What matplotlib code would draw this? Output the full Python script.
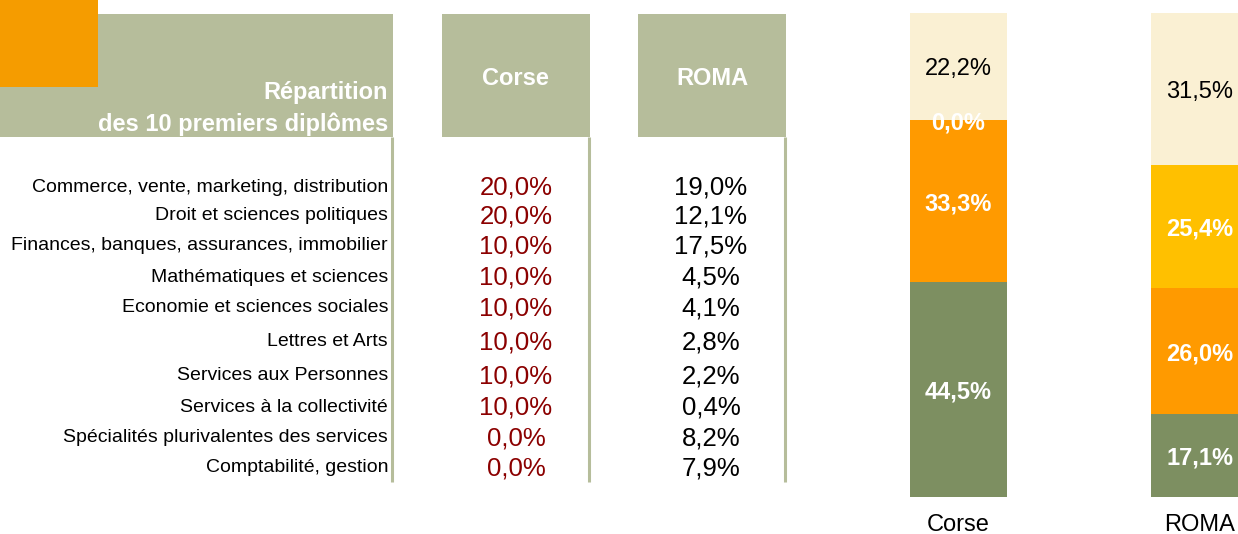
import matplotlib.pyplot as plt
from matplotlib.patches import Rectangle

plt.rcParams['font.family'] = ['Liberation Sans', 'DejaVu Sans']

# ---------------------------------------------------------------------------
# Data
# ---------------------------------------------------------------------------
diplomes = [
    'Commerce, vente, marketing, distribution',
    'Droit et sciences politiques',
    'Finances, banques, assurances, immobilier',
    'Mathématiques et sciences',
    'Economie et sciences sociales',
    'Lettres et Arts',
    'Services aux Personnes',
    'Services à la collectivité',
    'Spécialités plurivalentes des services',
    'Comptabilité, gestion',
]
corse_pct = [20.0, 20.0, 10.0, 10.0, 10.0, 10.0, 10.0, 10.0, 0.0, 0.0]
roma_pct = [19.0, 12.1, 17.5, 4.5, 4.1, 2.8, 2.2, 0.4, 8.2, 7.9]

bar_groups = ['Corse', 'ROMA']
# stacked segments from bottom to top
seg_green = [44.5, 17.1]
seg_orange = [33.3, 26.0]
seg_yellow = [0.0, 25.4]
seg_cream = [22.2, 31.5]

# ---------------------------------------------------------------------------
# Style
# ---------------------------------------------------------------------------
HEAD_GREEN = '#b6bd9b'
ORANGE_SQ = '#f59c00'
DARK_RED = '#8b0000'
C_GREEN = '#7d8f61'
C_ORANGE = '#ff9a00'
C_YELLOW = '#ffc000'
C_CREAM = '#faf0d3'

W, H = 1238, 534
fig = plt.figure(figsize=(W / 100, H / 100), dpi=100)

# table drawn in pixel coordinates
ax = fig.add_axes([0, 0, 1, 1])
ax.set_xlim(0, W)
ax.set_ylim(H, 0)
ax.axis('off')

# header boxes
ax.add_patch(Rectangle((0, 14), 393, 123, color=HEAD_GREEN, lw=0))
ax.add_patch(Rectangle((442, 14), 148, 123, color=HEAD_GREEN, lw=0))
ax.add_patch(Rectangle((638, 14), 148, 123, color=HEAD_GREEN, lw=0))
ax.add_patch(Rectangle((0, 0), 98, 87, color=ORANGE_SQ, lw=0, zorder=3))

# vertical separators
for x in [392, 588.5, 784.5]:
    ax.plot([x, x], [137, 482], color=HEAD_GREEN, lw=2.2, solid_capstyle='butt')

VA = 'center_baseline'
ax.text(388, 90, 'Répartition', ha='right', va=VA, fontsize=17,
        fontweight='bold', color='white')
ax.text(388, 122, 'des 10 premiers diplômes', ha='right', va=VA,
        fontsize=17, fontweight='bold', color='white')
ax.text(515, 76, 'Corse', ha='center', va=VA, fontsize=17,
        fontweight='bold', color='white')
ax.text(712, 76, 'ROMA', ha='center', va=VA, fontsize=17,
        fontweight='bold', color='white')

row_y = [185, 214, 244, 275, 306, 340, 374, 405, 436, 466]
for y, lab, c, r in zip(row_y, diplomes, corse_pct, roma_pct):
    ax.text(388, y, lab, ha='right', va=VA, fontsize=14, color='black')
    ax.text(516, y, f'{c:.1f}%'.replace('.', ','), ha='center', va=VA,
            fontsize=18.5, color=DARK_RED)
    ax.text(711, y, f'{r:.1f}%'.replace('.', ','), ha='center', va=VA,
            fontsize=18.5, color='black')

# ---------------------------------------------------------------------------
# Stacked bars
# ---------------------------------------------------------------------------
spacing = 241.0
x0_px = 958.5
left_px, right_px = 880, W
axb = fig.add_axes([left_px / W, (H - 497) / H, (right_px - left_px) / W, 484 / H])
axb.set_xlim((left_px - x0_px) / spacing, (right_px - x0_px) / spacing)
axb.set_ylim(0, 100)

xs = list(range(len(bar_groups)))
width = 97 / spacing
bottom = [0.0, 0.0]
segments = [
    (seg_green, C_GREEN, 'white', 'bold'),
    (seg_orange, C_ORANGE, 'white', 'bold'),
    (seg_yellow, C_YELLOW, 'white', 'bold'),
    (seg_cream, C_CREAM, 'black', 'normal'),
]
for vals, col, tcol, fw in segments:
    axb.bar(xs, vals, width=width, bottom=bottom, color=col, lw=0)
    for i, v in enumerate(vals):
        if i == 1 and v == 0:
            continue
        axb.text(xs[i], bottom[i] + v / 2, f'{v:.1f}%'.replace('.', ','),
                 ha='center', va=VA, fontsize=17, color=tcol,
                 fontweight=fw, clip_on=False)
    bottom = [b + v for b, v in zip(bottom, vals)]

axb.set_xticks(xs)
axb.set_xticklabels(bar_groups, fontsize=17)
axb.tick_params(axis='x', length=0, pad=12)
axb.set_yticks([])
for s in axb.spines.values():
    s.set_visible(False)
axb.patch.set_alpha(0)

fig.savefig('out.png', dpi=100)
